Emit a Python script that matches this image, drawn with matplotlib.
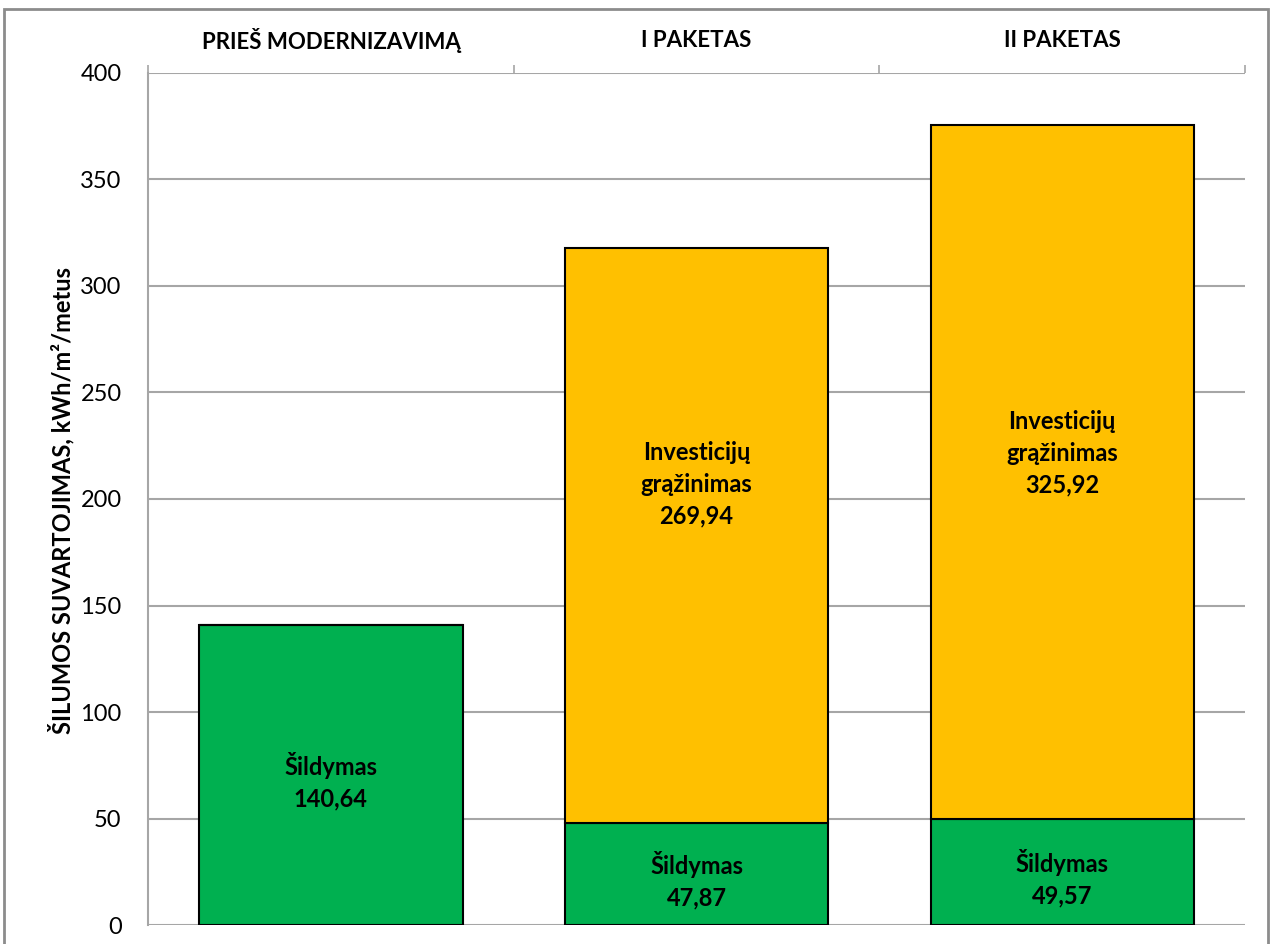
import matplotlib.pyplot as plt
from matplotlib.patches import Rectangle

plt.rcParams['font.family'] = ['Lato', 'DejaVu Sans']

categories = ['PRIEŠ MODERNIZAVIMĄ', 'I PAKETAS', 'II PAKETAS']
sildymas = [140.64, 47.87, 49.57]
investicijos = [0, 269.94, 325.92]
sild_labels = ['Šildymas\n140,64', 'Šildymas\n47,87', 'Šildymas\n49,57']
inv_labels = ['', 'Investicijų\ngrąžinimas\n269,94', 'Investicijų\ngrąžinimas\n325,92']

green = '#00B050'
yellow = '#FFC000'

fig = plt.figure(figsize=(12.72, 9.44), dpi=100)
ax = fig.add_axes([0.1164, 0.0201, 0.9788 - 0.1164, 0.9227 - 0.0201])

x = range(len(categories))
ax.bar(x, sildymas, width=0.72, color=green, edgecolor='black', linewidth=1.5, zorder=3)
ax.bar(x, investicijos, width=0.72, bottom=sildymas, color=yellow,
       edgecolor='black', linewidth=1.5, zorder=3)

# label offsets (data units) from segment middles
inv_shift = [0, 24, 9]
for i in x:
    ax.text(i, sildymas[i] / 2 - 3, sild_labels[i], ha='center', va='center',
            fontsize=17, fontweight='bold', linespacing=1.45, zorder=4)
    if investicijos[i] > 0:
        ymid = sildymas[i] + investicijos[i] / 2 + inv_shift[i]
        ax.text(i, ymid, inv_labels[i], ha='center', va='center',
                fontsize=17, fontweight='bold', linespacing=1.45, zorder=4)

ax.set_xlim(-0.5, 2.5)
ax.set_ylim(0, 400)
ax.set_yticks(range(0, 401, 50))
ax.yaxis.grid(True, color='#a6a6a6', linewidth=1.5, zorder=0)
ax.tick_params(axis='y', labelsize=17, length=0, pad=19)

ax.xaxis.tick_top()
ax.set_xticks([-0.5, 0.5, 1.5, 2.5])
ax.set_xticklabels([])
ax.tick_params(axis='x', length=6, color='#a6a6a6', width=1.2)
for i, c in enumerate(categories):
    ax.text(i, 1.038, c, transform=ax.get_xaxis_transform(), ha='center', va='center',
            fontsize=16, fontweight='bold')

for s in ['top', 'right', 'bottom']:
    ax.spines[s].set_visible(False)
ax.spines['left'].set_color('#a6a6a6')
ax.spines['left'].set_linewidth(1.5)

fig.text(0.048, 0.47, 'ŠILUMOS SUVARTOJIMAS, kWh/m²/metus', rotation=90,
         ha='center', va='center', fontsize=17, fontweight='bold')

fig.patches.append(Rectangle((0.003, -0.1), 0.994, 1.09, transform=fig.transFigure,
                             fill=False, edgecolor='#8c8c8c', linewidth=2))

fig.savefig('out.png', dpi=100)
